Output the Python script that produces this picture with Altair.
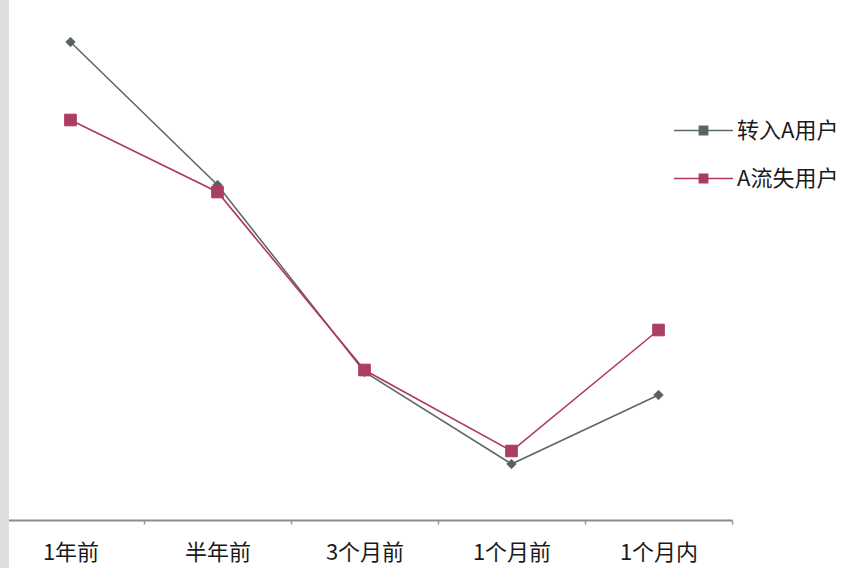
import altair as alt
import pandas as pd

# Time buckets along the x axis
periods = ["1年前", "半年前", "3个月前", "1个月前", "1个月内"]
series_names = ["转入A用户", "A流失用户"]

# Relative share per time bucket for each user group
inflow_values = [95.6, 67.0, 29.6, 11.2, 25.0]
churn_values = [80.0, 65.6, 30.0, 13.8, 38.0]

line_colors = ["#5e6966", "#b2375f"]
marker_colors = ["#58625f", "#a9405f"]
marker_shapes = ["diamond", "square"]
marker_sizes = [90, 135]

rows = []
for p, v in zip(periods, inflow_values):
    rows.append({"period": p, "value": v, "series": series_names[0]})
for p, v in zip(periods, churn_values):
    rows.append({"period": p, "value": v, "series": series_names[1]})
df = pd.DataFrame(rows)

FONT = "Noto Sans CJK SC"

x_enc = alt.X(
    "period:N",
    sort=periods,
    bandPosition=0.5,
    scale=alt.Scale(type="band", range=[-3, 732], paddingInner=0, paddingOuter=0),
    axis=alt.Axis(
        title=None,
        labelAngle=0,
        labelFont=FONT,
        labelFontSize=22,
        labelColor="#1a1a1a",
        labelPadding=18,
        domainColor="#8c8c8c",
        domainWidth=2,
        tickColor="#9a9a9a",
        tickSize=4,
        tickWidth=1.5,
        tickBand="extent",
        grid=False,
    ),
)
y_enc = alt.Y("value:Q", scale=alt.Scale(domain=[0, 100]), axis=None)

# legend glyph: a short line with a small marker in its middle
legend_symbol = "M-1,0H1M-0.14,-0.14H0.14V0.14H-0.14Z"
legend = alt.Legend(
    title=None,
    orient="none",
    legendX=673,
    legendY=80,
    symbolType=legend_symbol,
    symbolSize=3481,
    symbolStrokeWidth=1.6,
    labelFont=FONT,
    labelFontSize=22,
    labelColor="#1a1a1a",
    labelOffset=3,
    rowPadding=6,
)

stroke_scale = alt.Scale(domain=series_names, range=line_colors)
fill_scale = alt.Scale(domain=series_names, range=marker_colors)

base = alt.Chart(df)

lines = base.mark_line(strokeWidth=1.6).encode(
    x=x_enc,
    y=y_enc,
    stroke=alt.Stroke("series:N", scale=stroke_scale, legend=legend),
)

point_layers = []
for name, shape, size in zip(series_names, marker_shapes, marker_sizes):
    point_layers.append(
        base.transform_filter(alt.datum.series == name)
        .mark_point(filled=True, opacity=1, strokeWidth=1, shape=shape, size=size)
        .encode(
            x=x_enc,
            y=y_enc,
            fill=alt.Fill("series:N", scale=fill_scale, legend=legend),
            stroke=alt.Stroke("series:N", scale=stroke_scale, legend=legend),
        )
    )

# light grey strip along the left edge of the canvas
strip = alt.Chart(pd.DataFrame({"s": [0]})).mark_rect(color="#dedede").encode(
    x=alt.value(0), x2=alt.value(9), y=alt.value(-20), y2=alt.value(548)
)

chart = (
    alt.layer(lines, *point_layers, strip)
    .properties(
        width=735,
        height=500,
        padding={"left": 0, "top": 20, "right": 113, "bottom": 48},
        autosize=alt.AutoSizeParams(type="none"),
        background="white",
    )
    .configure_view(strokeWidth=0)
)

chart.save("out.html", embed_options={"renderer": "svg", "actions": False})
